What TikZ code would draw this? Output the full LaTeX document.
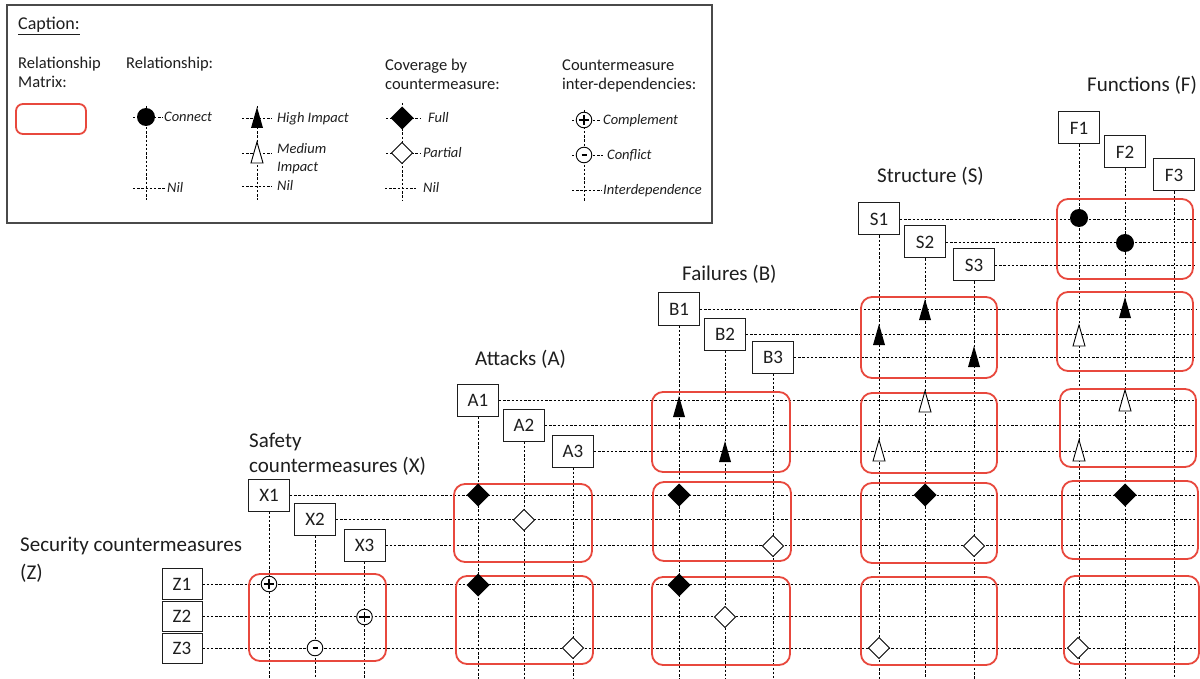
\documentclass[tikz,border=0pt]{standalone}
\usepackage{fontspec}
\setmainfont{Carlito}
\definecolor{matred}{HTML}{E8483D}
\definecolor{ink}{HTML}{1E1E1E}
\definecolor{capframe}{HTML}{4A4A4A}
\begin{document}
\begin{tikzpicture}[x=1pt,y=-1pt,
  gl/.style={line width=0.85pt, dash pattern=on 2.4pt off 1.8pt, black},
  lbl/.style={draw=ink, line width=1pt, fill=white, minimum width=41pt, minimum height=32pt, inner sep=0pt, font=\fontsize{19}{22}\selectfont, text=ink},
  zlbl/.style={lbl, minimum width=40pt, minimum height=30.8pt},
  mat/.style={draw=matred, line width=1.8pt, rounded corners=11pt},
  ttl/.style={anchor=base west, inner sep=0pt, font=\fontsize{21}{25}\selectfont, align=left, text=ink},
  captxt/.style={anchor=base west, inner sep=0pt, font=\fontsize{16.5}{19}\selectfont, align=left, text=ink},
  legtxt/.style={anchor=base west, inner sep=0pt, font=\fontsize{14.5}{18}\selectfont\itshape, align=left, text=ink},
  hitri/.pic={\fill[black] (-6,10) -- (6,10) -- (0,-11) -- cycle;},
  medtri/.pic={\filldraw[fill=white, draw=black, line width=0.9pt] (-6,10) -- (6,10) -- (0,-11) -- cycle;},
  fulld/.pic={\fill[black] (0,-11.5) -- (11.5,0) -- (0,11.5) -- (-11.5,0) -- cycle;},
  partd/.pic={\filldraw[fill=white, draw=black, line width=1pt] (0,-10.5) -- (10.5,0) -- (0,10.5) -- (-10.5,0) -- cycle;},
  dotc/.pic={\fill[black] (0,0) circle[radius=9];},
  cplus/.pic={\filldraw[fill=white, draw=black, line width=0.9pt] (0,0) circle[radius=7.8]; \draw[line width=1.3pt] (-5.2,0) -- (5.2,0) (0,-5.2) -- (0,5.2);},
  cminus/.pic={\filldraw[fill=white, draw=black, line width=0.9pt] (0,0) circle[radius=7.8]; \draw[line width=1.3pt] (-2.5,0) -- (2.5,0);}
]
\path[fill=white, use as bounding box] (0,0) rectangle (1200,679);

% ---------------- caption ----------------
\draw[capframe, line width=1.2pt] (7,5) rectangle (712,223);
\node[captxt, font=\fontsize{18}{20}\selectfont] (capt) at (18,30) {\underline{Caption:}};
\node[captxt] (relm) at (18,87.5) {Relationship\\Matrix:};
\draw[mat, rounded corners=7pt] (16,104) rectangle (86,134);
\node[captxt] (rel) at (126,68.5) {Relationship:};
\node[captxt] (cov) at (385,90) {Coverage by\\countermeasure:};
\node[captxt] (cmi) at (562,90) {Countermeasure\\inter-dependencies:};

% connect legend
\draw[gl] (146,106) -- (146,200);
\draw[gl] (133,117) -- (163,117);
\draw[gl] (133,188) -- (165,188);
\pic at (146,117) {dotc};
\node[legtxt] (lcon) at (164,122) {Connect};
\node[legtxt] (lnil1) at (167,192.5) {Nil};
% impact legend
\draw[gl] (257,106) -- (257,200);
\draw[gl] (242,118) -- (272,118);
\draw[gl] (242,153) -- (272,153);
\draw[gl] (242,186) -- (272,186);
\pic at (257,118) {hitri};
\pic at (257,153) {medtri};
\node[legtxt] (lhi) at (277,122.5) {High Impact};
\node[legtxt] (lmed) at (277,171.5) {Medium\\Impact};
\node[legtxt] (lnil2) at (277,190.5) {Nil};
% coverage legend
\draw[gl] (402,103) -- (402,200);
\draw[gl] (386,118) -- (420,118);
\draw[gl] (386,153) -- (420,153);
\draw[gl] (385,188) -- (416,188);
\pic at (402,118) {fulld};
\pic at (402,153) {partd};
\node[legtxt] (lful) at (428,122.5) {Full};
\node[legtxt] (lpar) at (423,157.5) {Partial};
\node[legtxt] (lnil3) at (423,192.5) {Nil};
% interdependency legend
\draw[gl] (584,110) -- (584,202);
\draw[gl] (572,120) -- (600,120);
\draw[gl] (572,155) -- (603,155);
\draw[gl] (572,190) -- (602,190);
\pic at (584,120) {cplus};
\pic at (584,155) {cminus};
\node[legtxt] (lcom) at (603,124.5) {Complement};
\node[legtxt] (lcfl) at (607,159.5) {Conflict};
\node[legtxt] (lint) at (603,194.5) {Interdependence};

% ---------------- titles ----------------
\node[ttl] (tz) at (20,579) {Security countermeasures\\[3pt](Z)};
\node[ttl] (tx) at (249,472) {Safety\\countermeasures (X)};
\node[ttl] (ta) at (475,365) {Attacks (A)};
\node[ttl] (tb) at (682,280) {Failures (B)};
\node[ttl] (ts) at (877,182.5) {Structure (S)};
\node[ttl] (tf) at (1087,92) {Functions (F)};

% ---------------- labels ----------------
\node[zlbl] (Z1) at (182,584) {Z1};
\node[zlbl] (Z2) at (182,616.5) {Z2};
\node[zlbl] (Z3) at (182,648.5) {Z3};
\node[lbl] (X1) at (269,495) {X1};
\node[lbl] (X2) at (315,519.5) {X2};
\node[lbl] (X3) at (364.5,545.5) {X3};
\node[lbl] (A1) at (478,400.5) {A1};
\node[lbl] (A2) at (524,425) {A2};
\node[lbl] (A3) at (573,451) {A3};
\node[lbl] (B1) at (679,309) {B1};
\node[lbl] (B2) at (725,334) {B2};
\node[lbl] (B3) at (773,357) {B3};
\node[lbl] (S1) at (879,219) {S1};
\node[lbl] (S2) at (925,242) {S2};
\node[lbl] (S3) at (974,265) {S3};
\node[lbl] (F1) at (1079,128) {F1};
\node[lbl] (F2) at (1125,152) {F2};
\node[lbl] (F3) at (1174,175) {F3};

\coordinate (RE) at (1196,0);
\coordinate (BE) at (0,679);

% rows
\foreach \n in {S1,S2,S3,B1,B2,B3,A1,A2,A3,X1,X2,X3,Z1,Z2,Z3}
  \draw[gl] (\n.east) -- (\n.east -| RE);
% columns
\foreach \n in {X1,X2,X3,A1,A2,A3,B1,B2,B3,S1,S2,S3,F1,F2,F3}
  \draw[gl] (\n.south) -- (\n.south |- BE);

% ---------------- matrices ----------------
\draw[mat] (249,574) rectangle (386,661);
\draw[mat] (454,484) rectangle (592,562);
\draw[mat] (456,576) rectangle (593,664);
\draw[mat] (652,392) rectangle (790,472);
\draw[mat] (653,482) rectangle (791,561);
\draw[mat] (652,577) rectangle (790,665);
\draw[mat] (861,297) rectangle (997,378);
\draw[mat] (861,393) rectangle (997,473);
\draw[mat] (861,483) rectangle (997,563);
\draw[mat] (861,577) rectangle (997,665);
\draw[mat] (1057,199) rectangle (1193,279);
\draw[mat] (1057,292) rectangle (1193,371);
\draw[mat] (1060,389) rectangle (1196,467);
\draw[mat] (1062,481) rectangle (1198,559);
\draw[mat] (1064,576) rectangle (1199,664);

% ---------------- markers ----------------
% Z x X
\pic at (269,584) {cplus};
\pic at (315,648) {cminus};
\pic at (364.5,617) {cplus};
% X x A, Z x A
\pic at (478,495) {fulld};
\pic at (524,520) {partd};
\pic at (478,585) {fulld};
\pic at (573,648) {partd};
% A x B, X x B, Z x B
\pic at (679,407) {hitri};
\pic at (725,452) {hitri};
\pic at (679,495) {fulld};
\pic at (773,546) {partd};
\pic at (679,585) {fulld};
\pic at (725,617) {partd};
% S
\pic at (925,310) {hitri};
\pic at (879,335) {hitri};
\pic at (974,357) {hitri};
\pic at (925,402) {medtri};
\pic at (879,451) {medtri};
\pic at (925,495) {fulld};
\pic at (974,546) {partd};
\pic at (879,648) {partd};
% F
\pic at (1079,218) {dotc};
\pic at (1125,243) {dotc};
\pic at (1125,308) {hitri};
\pic at (1079,336) {medtri};
\pic at (1125,401) {medtri};
\pic at (1079,451) {medtri};
\pic at (1125,495) {fulld};
\pic at (1078,648) {partd};
\end{tikzpicture}
\end{document}
